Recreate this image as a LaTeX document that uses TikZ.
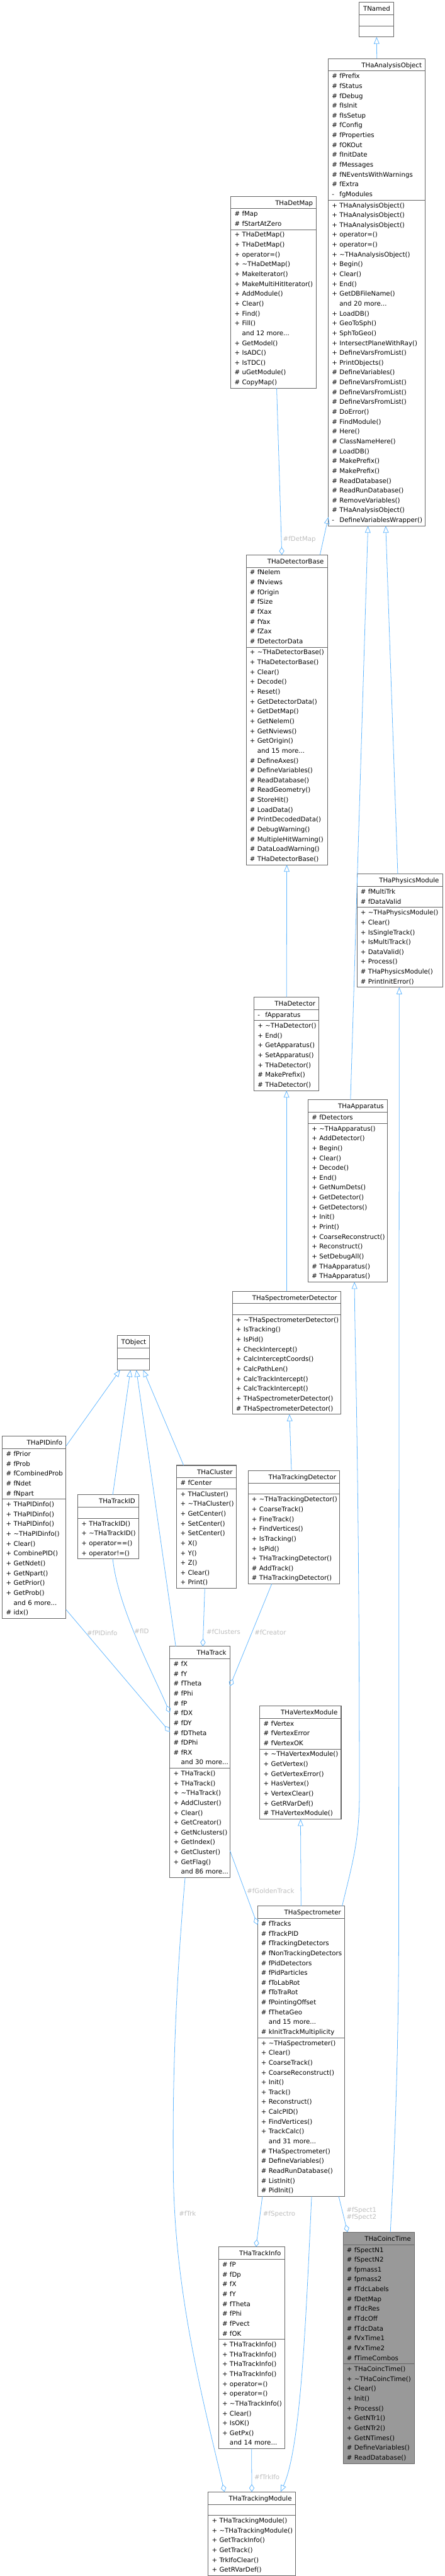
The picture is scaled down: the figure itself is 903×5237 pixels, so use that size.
\documentclass[tikz,border=0pt]{standalone}
\usepackage{fontspec}
\setmainfont{DejaVu Sans}
\usetikzlibrary{shapes.multipart,arrows.meta,calc}
\definecolor{linkblue}{HTML}{63B8FF}
\definecolor{boxgray}{HTML}{666666}
\definecolor{lblgray}{HTML}{BEBEBE}
\definecolor{maingray}{HTML}{999999}
\newcommand\vis[2]{\mbox{\strut\makebox[11.5pt][l]{#1}#2}}
\newcommand\pub[1]{\vis{+}{#1}}
\newcommand\prot[1]{\vis{\#}{#1}}
\newcommand\priv[1]{\vis{-}{#1}}
\newcommand\more[1]{\vis{}{and #1 more...}}
\newcommand\cname[1]{\hspace*{\fill}\rule[-4.6pt]{0pt}{17.2pt}#1\hspace*{\fill}}
\newcommand\dtor{\textasciitilde}
\tikzset{
  cls/.style={rectangle split, rectangle split parts=3, draw=boxgray, line width=1pt,
    fill=white, anchor=north west, inner xsep=5.5pt, inner ysep=0.4pt, outer sep=0pt,
    align=left, font=\fontsize{9.8}{15}\selectfont},
  conn/.style={draw=linkblue, line width=0.75pt},
  inherit/.style={conn, -{Triangle[open,length=10.5pt,width=8.5pt]}},
  aggr/.style={conn, -{Diamond[open,length=11.8pt,width=8pt]}},
  lbl/.style={font=\fontsize{9.8}{11.25}\selectfont, text=lblgray, inner sep=0pt, anchor=west, align=left}
}
\begin{document}
\begin{tikzpicture}[x=0.75pt,y=-0.75pt]
  \path[fill=white, use as bounding box] (0,0) rectangle (903,5237);
  % classes
  \node[cls, text width=41.5pt] (tnamed) at (730,5) {\cname{TNamed}\nodepart{two}\strut\nodepart{three}\strut};
  \node[cls, text width=136.75pt] (aobj) at (667,119) {\cname{THaAnalysisObject}
    \nodepart{two}\prot{fPrefix}\\\prot{fStatus}\\\prot{fDebug}\\\prot{fIsInit}\\\prot{fIsSetup}\\\prot{fConfig}\\\prot{fProperties}\\\prot{fOKOut}\\\prot{fInitDate}\\\prot{fMessages}\\\prot{fNEventsWithWarnings}\\\prot{fExtra}\\\priv{fgModules}
    \nodepart{three}\pub{THaAnalysisObject()}\\\pub{THaAnalysisObject()}\\\pub{THaAnalysisObject()}\\\pub{operator=()}\\\pub{operator=()}\\\pub{\dtor THaAnalysisObject()}\\\pub{Begin()}\\\pub{Clear()}\\\pub{End()}\\\pub{GetDBFileName()}\\\more{20}\\\pub{LoadDB()}\\\pub{GeoToSph()}\\\pub{SphToGeo()}\\\pub{IntersectPlaneWithRay()}\\\pub{DefineVarsFromList()}\\\pub{PrintObjects()}\\\prot{DefineVariables()}\\\prot{DefineVarsFromList()}\\\prot{DefineVarsFromList()}\\\prot{DefineVarsFromList()}\\\prot{DoError()}\\\prot{FindModule()}\\\prot{Here()}\\\prot{ClassNameHere()}\\\prot{LoadDB()}\\\prot{MakePrefix()}\\\prot{MakePrefix()}\\\prot{ReadDatabase()}\\\prot{ReadRunDatabase()}\\\prot{RemoveVariables()}\\\prot{THaAnalysisObject()}\\\priv{DefineVariablesWrapper()}};
  \node[cls, text width=119.5pt] (detmap) at (469,399) {\cname{THaDetMap}
    \nodepart{two}\prot{fMap}\\\prot{fStartAtZero}
    \nodepart{three}\pub{THaDetMap()}\\\pub{THaDetMap()}\\\pub{operator=()}\\\pub{\dtor THaDetMap()}\\\pub{MakeIterator()}\\\pub{MakeMultiHitIterator()}\\\pub{AddModule()}\\\pub{Clear()}\\\pub{Find()}\\\pub{Fill()}\\\more{12}\\\pub{GetModel()}\\\pub{IsADC()}\\\pub{IsTDC()}\\\prot{uGetModule()}\\\prot{CopyMap()}};
  \node[cls, text width=112.75pt] (detbase) at (500,1128) {\cname{THaDetectorBase}
    \nodepart{two}\prot{fNelem}\\\prot{fNviews}\\\prot{fOrigin}\\\prot{fSize}\\\prot{fXax}\\\prot{fYax}\\\prot{fZax}\\\prot{fDetectorData}
    \nodepart{three}\pub{\dtor THaDetectorBase()}\\\pub{THaDetectorBase()}\\\pub{Clear()}\\\pub{Decode()}\\\pub{Reset()}\\\pub{GetDetectorData()}\\\pub{GetDetMap()}\\\pub{GetNelem()}\\\pub{GetNviews()}\\\pub{GetOrigin()}\\\more{15}\\\prot{DefineAxes()}\\\prot{DefineVariables()}\\\prot{ReadDatabase()}\\\prot{ReadGeometry()}\\\prot{StoreHit()}\\\prot{LoadData()}\\\prot{PrintDecodedData()}\\\prot{DebugWarning()}\\\prot{MultipleHitWarning()}\\\prot{DataLoadWarning()}\\\prot{THaDetectorBase()}};
  \node[cls, text width=119.5pt] (physmod) at (725,1777) {\cname{THaPhysicsModule}
    \nodepart{two}\prot{fMultiTrk}\\\prot{fDataValid}
    \nodepart{three}\pub{\dtor THaPhysicsModule()}\\\pub{Clear()}\\\pub{IsSingleTrack()}\\\pub{IsMultiTrack()}\\\pub{DataValid()}\\\pub{Process()}\\\prot{THaPhysicsModule()}\\\prot{PrintInitError()}};
  \node[cls, text width=88pt] (det) at (516,2027) {\cname{THaDetector}
    \nodepart{two}\priv{fApparatus}
    \nodepart{three}\pub{\dtor THaDetector()}\\\pub{End()}\\\pub{GetApparatus()}\\\pub{SetApparatus()}\\\pub{THaDetector()}\\\prot{MakePrefix()}\\\prot{THaDetector()}};
  \node[cls, text width=109.75pt] (app) at (626,2236) {\cname{THaApparatus}
    \nodepart{two}\prot{fDetectors}
    \nodepart{three}\pub{\dtor THaApparatus()}\\\pub{AddDetector()}\\\pub{Begin()}\\\pub{Clear()}\\\pub{Decode()}\\\pub{End()}\\\pub{GetNumDets()}\\\pub{GetDetector()}\\\pub{GetDetectors()}\\\pub{Init()}\\\pub{Print()}\\\pub{CoarseReconstruct()}\\\pub{Reconstruct()}\\\pub{SetDebugAll()}\\\prot{THaApparatus()}\\\prot{THaApparatus()}};
  \node[cls, text width=154pt] (specdet) at (472,2625) {\cname{THaSpectrometerDetector}
    \nodepart{two}\strut
    \nodepart{three}\pub{\dtor THaSpectrometerDetector()}\\\pub{IsTracking()}\\\pub{IsPid()}\\\pub{CheckIntercept()}\\\pub{CalcInterceptCoords()}\\\pub{CalcPathLen()}\\\pub{CalcTrackIntercept()}\\\pub{CalcTrackIntercept()}\\\pub{THaSpectrometerDetector()}\\\prot{THaSpectrometerDetector()}};
  \node[cls, text width=37.75pt] (tobj) at (239,2715) {\cname{TObject}\nodepart{two}\strut\nodepart{three}\strut};
  \node[cls, text width=85.75pt] (pidinfo) at (5,2920) {\cname{THaPIDinfo}
    \nodepart{two}\prot{fPrior}\\\prot{fProb}\\\prot{fCombinedProb}\\\prot{fNdet}\\\prot{fNpart}
    \nodepart{three}\pub{THaPIDinfo()}\\\pub{THaPIDinfo()}\\\pub{THaPIDinfo()}\\\pub{\dtor THaPIDinfo()}\\\pub{Clear()}\\\pub{CombinePID()}\\\pub{GetNdet()}\\\pub{GetNpart()}\\\pub{GetPrior()}\\\pub{GetProb()}\\\more{6}\\\prot{idx()}};
  \node[cls, text width=82pt] (trackid) at (158,3039) {\cname{THaTrackID}
    \nodepart{two}\strut
    \nodepart{three}\pub{THaTrackID()}\\\pub{\dtor THaTrackID()}\\\pub{operator==()}\\\pub{operator!=()}};
  \node[cls, text width=79.75pt] (cluster) at (359,2979) {\cname{THaCluster}
    \nodepart{two}\prot{fCenter}
    \nodepart{three}\pub{THaCluster()}\\\pub{\dtor THaCluster()}\\\pub{GetCenter()}\\\pub{SetCenter()}\\\pub{SetCenter()}\\\pub{X()}\\\pub{Y()}\\\pub{Z()}\\\pub{Clear()}\\\pub{Print()}};
  \node[cls, text width=128.5pt] (trkdet) at (504,2990) {\cname{THaTrackingDetector}
    \nodepart{two}\strut
    \nodepart{three}\pub{\dtor THaTrackingDetector()}\\\pub{CoarseTrack()}\\\pub{FineTrack()}\\\pub{FindVertices()}\\\pub{IsTracking()}\\\pub{IsPid()}\\\pub{THaTrackingDetector()}\\\prot{AddTrack()}\\\prot{THaTrackingDetector()}};
  \node[cls, text width=80.5pt] (track) at (345,3347) {\cname{THaTrack}
    \nodepart{two}\prot{fX}\\\prot{fY}\\\prot{fTheta}\\\prot{fPhi}\\\prot{fP}\\\prot{fDX}\\\prot{fDY}\\\prot{fDTheta}\\\prot{fDPhi}\\\prot{fRX}\\\more{30}
    \nodepart{three}\pub{THaTrack()}\\\pub{THaTrack()}\\\pub{\dtor THaTrack()}\\\pub{AddCluster()}\\\pub{Clear()}\\\pub{GetCreator()}\\\pub{GetNclusters()}\\\pub{GetIndex()}\\\pub{GetCluster()}\\\pub{GetFlag()}\\\more{86}};
  \node[cls, text width=112.75pt] (vtxmod) at (528,3468) {\cname{THaVertexModule}
    \nodepart{two}\prot{fVertex}\\\prot{fVertexError}\\\prot{fVertexOK}
    \nodepart{three}\pub{\dtor THaVertexModule()}\\\pub{GetVertex()}\\\pub{GetVertexError()}\\\pub{HasVertex()}\\\pub{VertexClear()}\\\pub{GetRVarDef()}\\\prot{THaVertexModule()}};
  \node[cls, text width=121.75pt] (spec) at (523,3875) {\cname{THaSpectrometer}
    \nodepart{two}\prot{fTracks}\\\prot{fTrackPID}\\\prot{fTrackingDetectors}\\\prot{fNonTrackingDetectors}\\\prot{fPidDetectors}\\\prot{fPidParticles}\\\prot{fToLabRot}\\\prot{fToTraRot}\\\prot{fPointingOffset}\\\prot{fThetaGeo}\\\more{15}\\\prot{kInitTrackMultiplicity}
    \nodepart{three}\pub{\dtor THaSpectrometer()}\\\pub{Clear()}\\\pub{CoarseTrack()}\\\pub{CoarseReconstruct()}\\\pub{Init()}\\\pub{Track()}\\\pub{Reconstruct()}\\\pub{CalcPID()}\\\pub{FindVertices()}\\\pub{TrackCalc()}\\\more{31}\\\prot{THaSpectrometer()}\\\prot{DefineVariables()}\\\prot{ReadRunDatabase()}\\\prot{ListInit()}\\\prot{PidInit()}};
  \node[cls, fill=maingray, text width=97.75pt] (coinc) at (697,4538) {\cname{THaCoincTime}
    \nodepart{two}\prot{fSpectN1}\\\prot{fSpectN2}\\\prot{fpmass1}\\\prot{fpmass2}\\\prot{fTdcLabels}\\\prot{fDetMap}\\\prot{fTdcRes}\\\prot{fTdcOff}\\\prot{fTdcData}\\\prot{fVxTime1}\\\prot{fVxTime2}\\\prot{fTimeCombos}
    \nodepart{three}\pub{THaCoincTime()}\\\pub{\dtor THaCoincTime()}\\\pub{Clear()}\\\pub{Init()}\\\pub{Process()}\\\pub{GetNTr1()}\\\pub{GetNTr2()}\\\pub{GetNTimes()}\\\prot{DefineVariables()}\\\prot{ReadDatabase()}};
  \node[cls, text width=89.5pt] (trkinfo) at (444,4568) {\cname{THaTrackInfo}
    \nodepart{two}\prot{fP}\\\prot{fDp}\\\prot{fX}\\\prot{fY}\\\prot{fTheta}\\\prot{fPhi}\\\prot{fPvect}\\\prot{fOK}
    \nodepart{three}\pub{THaTrackInfo()}\\\pub{THaTrackInfo()}\\\pub{THaTrackInfo()}\\\pub{THaTrackInfo()}\\\pub{operator=()}\\\pub{operator=()}\\\pub{\dtor THaTrackInfo()}\\\pub{Clear()}\\\pub{IsOK()}\\\pub{GetPx()}\\\more{14}};
  \node[cls, text width=121.75pt] (trkmod) at (423,5066) {\cname{THaTrackingModule}
    \nodepart{two}\strut
    \nodepart{three}\pub{THaTrackingModule()}\\\pub{\dtor THaTrackingModule()}\\\pub{GetTrackInfo()}\\\pub{GetTrack()}\\\pub{TrkIfoClear()}\\\pub{GetRVarDef()}};
  % inheritance
  \draw[inherit] (aobj.north) -- (tnamed.south);
  \draw[inherit] ($(detbase.north east)+(-15,0)$) -- ($(aobj.south west)+(0,-18)$);
  \draw[inherit] ($(app.north)+(5.5,0)$) -- ($(aobj.south)+(-18,0)$);
  \draw[inherit] ($(physmod.north)+(-4,0)$) -- ($(aobj.south)+(18,0)$);
  \draw[inherit] (det.north) -- (detbase.south);
  \draw[inherit] (specdet.north) -- (det.south);
  \draw[inherit] ($(trkdet.north)+(-5,0)$) -- ($(specdet.south)+(6,0)$);
  \draw[inherit] ($(spec.north east)+(-5,0)$) .. controls (714,3795) and (730,3745) .. (730,3650)
    .. controls (730,3000) and (721,2750) .. ($(app.south)+(13.5,0)$);
  \draw[inherit] (spec.north) -- (vtxmod.south);
  \draw[inherit] ($(pidinfo.north east)+(0,20)$) -- ($(tobj.south west)+(5,0)$);
  \draw[inherit] ($(trackid.north)+(9,0)$) -- ($(tobj.south)+(-6.5,0)$);
  \draw[inherit] ($(track.north west)+(12,0)$) -- ($(tobj.south)+(5.5,0)$);
  \draw[inherit] ($(cluster.north west)+(14,0)$) -- ($(tobj.south)+(19.5,0)$);
  \draw[inherit] ($(coinc.north)+(23.5,0)$) .. controls (800,4400) and (810,4200) .. (810,3900)
    -- ($(physmod.south)+(-1,0)$);
  \draw[inherit] ($(spec.south)+(21.5,0)$) .. controls (622,4700) and (612,4975) .. ($(trkmod.north east)+(-30,0)$);
  % aggregation
  \draw[aggr] ($(detmap.south)+(6,0)$) -- node[lbl, pos=0.907, xshift=2.25pt] (ldetmap) {\#fDetMap} ($(detbase.north)+(-10,0)$);
  \draw[aggr] ($(pidinfo.south east)+(0,-18)$) -- node[lbl, pos=0.193, xshift=1pt] (lpidinfo) {\#fPIDinfo} ($(track.north west)+(0,174)$);
  \draw[aggr] ($(trackid.south)+(9,0)$) .. controls (240,3270) and (310,3400) .. node[lbl, pos=0.45, xshift=1pt] (lid) {\#fID} ($(track.north west)+(0,135)$);
  \draw[aggr] ($(cluster.south west)+(57,0)$) -- node[lbl, pos=0.746, xshift=4.5pt] (lclusters) {\#fClusters} ($(track.north)+(6,0)$);
  \draw[aggr] ($(trkdet.south west)+(48,0)$) -- node[lbl, pos=0.474, xshift=3.5pt] (lcreator) {\#fCreator} ($(track.north east)+(0,81)$);
  \draw[aggr] ($(track.south east)+(0,-55)$) -- node[lbl, pos=0.548, xshift=2.5pt] (lgolden) {\#fGoldenTrack} ($(spec.north west)+(0,38)$);
  \draw[aggr] ($(track.south west)+(31,0)$) .. controls (360,4000) and (350,4200) .. (352,4400)
    .. controls (352,4650) and (410,4870) .. node[lbl, pos=0.135, xshift=6pt] (ltrk) {\#fTrk} ($(trkmod.north west)+(33,0)$);
  \draw[aggr] ($(spec.south west)+(10,0)$) -- node[lbl, pos=0.346, xshift=4pt] (lspectro) {\#fSpectro} ($(trkinfo.north)+(9,0)$);
  \draw[aggr] ($(spec.south east)+(-12,0)$) -- node[lbl, pos=0.487, xshift=5pt] (lspect) {\#fSpect1\\\#fSpect2} ($(coinc.north west)+(9,0)$);
  \draw[aggr] (trkinfo.south) -- node[lbl, pos=0.652, xshift=3.75pt] (ltrkifo) {\#fTrkIfo} (trkmod.north);
\end{tikzpicture}
\end{document}
